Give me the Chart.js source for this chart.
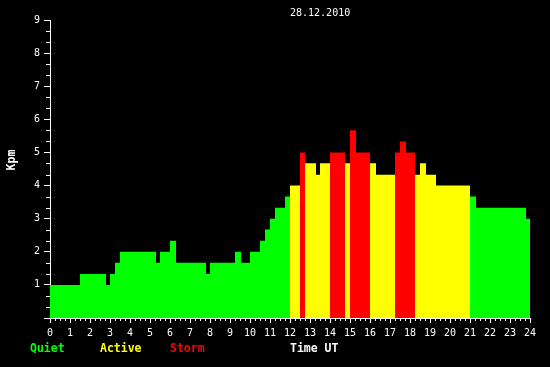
<!DOCTYPE html>
<html>
<head>
<meta charset="utf-8">
<script src="https://cdn.jsdelivr.net/npm/chart.js@4.4.1/dist/chart.umd.min.js"></script>
<style>
  html, body { margin: 0; padding: 0; background: #000; }
  canvas { display: block; }
</style>
</head>
<body>
<canvas id="kp" width="550" height="367"></canvas>
<script>
// Kpm step values: each value holds from its start hour until the next one
const startHours = [0, 1.5, 2.8, 3.0, 3.25, 3.5, 5.3, 5.5, 6.0, 6.3, 7.8, 8.0, 9.25, 9.55, 10.0, 10.5, 10.75, 11.0, 11.25, 11.75,
                    12.0, 12.5, 12.75, 13.3, 13.5, 14.0, 14.75, 15.0, 15.3, 16.0, 16.3, 17.25, 17.5, 17.8, 18.25, 18.5, 18.8, 19.3,
                    21.0, 21.3, 23.8, 24.0];
const kpValues = [1.0, 1.33, 1.0, 1.33, 1.67, 2.0, 1.67, 2.0, 2.33, 1.67, 1.33, 1.67, 2.0, 1.67, 2.0, 2.33, 2.67, 3.0, 3.33, 3.67,
                  4.0, 5.0, 4.67, 4.33, 4.67, 5.0, 4.67, 5.67, 5.0, 4.67, 4.33, 5.0, 5.33, 5.0, 4.33, 4.67, 4.33, 4.0,
                  3.67, 3.33, 3.0, 3.0];

const dateTitle = '28.12.2010';
const legendNames = ['Quiet', 'Active', 'Storm'];
const legendColors = ['#00ff00', '#ffff00', '#ff0000'];

const FONT = '"DejaVu Sans Mono", "Liberation Mono", monospace';

function levelColor(v) {
  if (v >= 4.99) return legendColors[2];
  if (v >= 3.99) return legendColors[1];
  return legendColors[0];
}

const points = startHours.map((h, i) => ({ x: h, y: kpValues[i] }));

// minor ticks and the free texts round the plot
const extras = {
  id: 'extras',
  afterDraw(chart) {
    const ctx = chart.ctx;
    const xs = chart.scales.x, ys = chart.scales.y;
    ctx.save();
    ctx.strokeStyle = '#fff';
    ctx.lineWidth = 1;
    ctx.beginPath();
    for (let i = 1; i < 27; i++) {
      if (i % 3 === 0) continue;
      const py = Math.round(ys.getPixelForValue(i / 3)) + 0.5;
      ctx.moveTo(ys.right - 4, py);
      ctx.lineTo(ys.right, py);
    }
    for (let i = 1; i < 96; i++) {
      if (i % 4 === 0) continue;
      const px = Math.round(xs.getPixelForValue(i / 4)) + 0.5;
      ctx.moveTo(px, xs.top);
      ctx.lineTo(px, xs.top + 3);
    }
    ctx.stroke();

    ctx.fillStyle = '#fff';
    ctx.textBaseline = 'middle';
    ctx.textAlign = 'left';
    ctx.font = '10px ' + FONT;
    ctx.fillText(dateTitle, 290, 13);

    ctx.font = 'bold 11.5px ' + FONT;
    legendNames.forEach((name, i) => {
      ctx.fillStyle = legendColors[i];
      ctx.fillText(name, 30 + i * 70, 349);
    });
    ctx.fillStyle = '#fff';
    ctx.fillText('Time UT', 290, 349);

    ctx.translate(12.5, 160);
    ctx.rotate(-Math.PI / 2);
    ctx.textAlign = 'center';
    ctx.fillText('Kpm', 0, 0);
    ctx.restore();
  }
};

new Chart(document.getElementById('kp'), {
  type: 'line',
  data: {
    datasets: [{
      data: points,
      stepped: 'before',
      fill: 'origin',
      borderWidth: 0,
      borderColor: 'rgba(0,0,0,0)',
      backgroundColor: legendColors[0],
      pointRadius: 0,
      segment: {
        backgroundColor: c => levelColor(c.p0.parsed.y)
      }
    }]
  },
  options: {
    responsive: false,
    animation: false,
    devicePixelRatio: 1,
    layout: { padding: { top: 20, right: 20, left: 0, bottom: 0 } },
    plugins: {
      legend: { display: false },
      tooltip: { enabled: false }
    },
    scales: {
      x: {
        type: 'linear',
        min: 0,
        max: 24,
        afterFit: s => { s.height = 49; },
        border: { color: '#fff', width: 1 },
        grid: { drawOnChartArea: false, drawTicks: true, tickLength: 5, color: '#fff' },
        ticks: {
          stepSize: 1,
          autoSkip: false,
          maxRotation: 0,
          color: '#fff',
          padding: 4,
          font: { family: FONT, size: 10 }
        }
      },
      y: {
        min: 0,
        max: 9,
        afterFit: s => { s.width = 50; },
        border: { color: '#fff', width: 1 },
        grid: { drawOnChartArea: false, drawTicks: true, tickLength: 6, color: '#fff' },
        ticks: {
          stepSize: 1,
          color: '#fff',
          padding: 4,
          font: { family: FONT, size: 10 },
          callback: v => (v === 0 ? '' : v)
        }
      }
    }
  },
  plugins: [extras]
});
</script>
</body>
</html>
